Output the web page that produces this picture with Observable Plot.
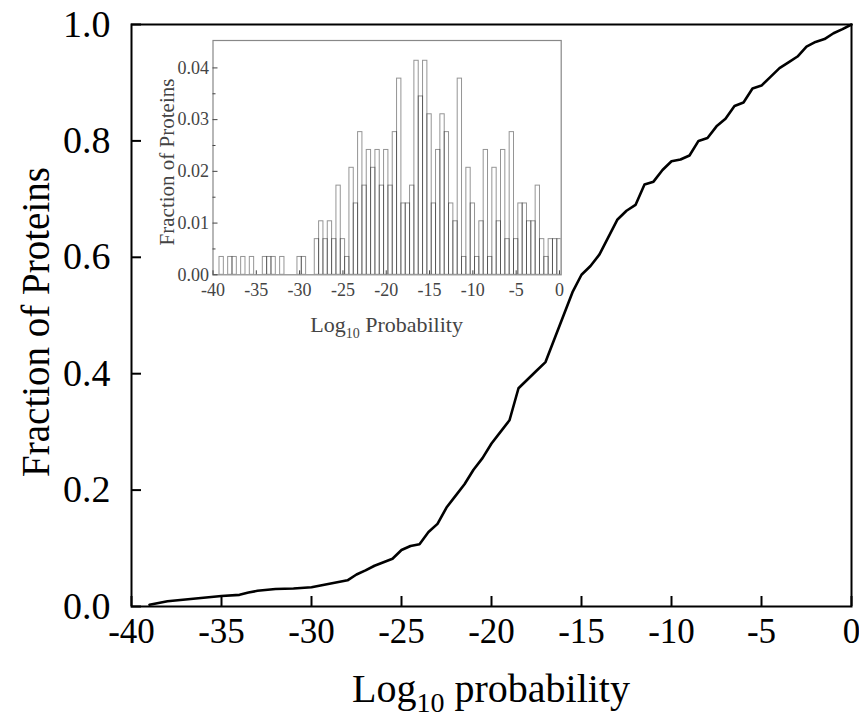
<!DOCTYPE html>
<html><head><meta charset="utf-8">
<script src="https://cdn.jsdelivr.net/npm/d3@7"></script>
<script src="https://cdn.jsdelivr.net/npm/@observablehq/plot@0.6"></script>
<style>
body{margin:0;background:#fff;}
#wrap{position:relative;width:859px;height:717px;}
#inset{position:absolute;left:140px;top:30px;}
</style></head><body><div id="wrap"><div id="main"></div><div id="inset"></div></div>
<script>
// Main cumulative curve
const cdfX = [-39,-38.5,-38,-37,-36,-35,-34,-33.5,-33,-32,-31,-30,-29.5,-29,-28,-27.5,-27,-26.5,-26,-25.5,-25,-24.5,-24,-23.5,-23,-22.5,-22,-21.5,-21,-20.5,-20,-19.5,-19,-18.5,-18,-17.5,-17,-16.5,-16,-15.5,-15,-14.5,-14,-13.5,-13,-12.5,-12,-11.5,-11,-10.5,-10,-9.5,-9,-8.5,-8,-7.5,-7,-6.5,-6,-5.5,-5,-4.5,-4,-3.5,-3,-2.5,-2,-1.5,-1,-0.5,0];
const cdfY = [0.003,0.006,0.009,0.012,0.015,0.018,0.02,0.024,0.027,0.03,0.031,0.033,0.036,0.039,0.045,0.055,0.062,0.07,0.076,0.082,0.097,0.104,0.107,0.128,0.142,0.17,0.19,0.21,0.235,0.255,0.28,0.3,0.32,0.375,0.39,0.405,0.42,0.46,0.5,0.54,0.57,0.585,0.605,0.635,0.665,0.68,0.69,0.725,0.73,0.75,0.765,0.768,0.775,0.8,0.805,0.825,0.838,0.86,0.866,0.89,0.895,0.91,0.925,0.935,0.945,0.962,0.97,0.975,0.985,0.992,1.0];

// Inset histogram: bins of width 0.5 (centres -39 ... 0), protein counts per bin
const binWidth = 0.5;
const binCenters = d3.range(-39, 0.001, binWidth);
const binCounts = [1,0,1,1,0,1,0,1,0,0,1,1,1,0,1,0,0,0,1,1,0,0,
  2,3,2,3,2,5,2,1,6,
  4,8,5,7,6,7,5,7,
  5,8,11,4,4,5,12,10,
  12,9,4,7,9,8,4,3,
  11,1,6,4,1,3,7,1,
  6,3,7,2,8,2,4,4,
  3,3,5,2,1,2,2,2];
const totalProteins = 290;

const xTicks = [-40,-35,-30,-25,-20,-15,-10,-5,0];
const yTicks = [0,0.2,0.4,0.6,0.8,1.0];
const insetYTicks = [0,0.01,0.02,0.03,0.04];
const insetYMinor = [0.005,0.015,0.025,0.035];

const serif = "'Liberation Serif','Times New Roman',serif";

const curve = cdfX.map((x, i) => ({x, y: cdfY[i]}));
const main = Plot.plot({
  width: 859, height: 717,
  marginLeft: 131, marginRight: 8, marginTop: 24, marginBottom: 111,
  style: {fontFamily: serif, background: "white", color: "black", overflow: "visible"},
  x: {domain: [-40, 0]},
  y: {domain: [0, 1]},
  marks: [
    Plot.axisX({ticks: xTicks, tickSize: -10, tickPadding: 22, strokeWidth: 2, tickFormat: d => String(d), fontSize: 35, label: null}),
    Plot.axisY({ticks: yTicks, tickSize: -10, tickPadding: 31, strokeWidth: 2, tickFormat: d3.format(".1f"), fontSize: 38, label: null}),
    Plot.frame({stroke: "black", strokeWidth: 2}),
    Plot.line(curve, {x: "x", y: "y", stroke: "black", strokeWidth: 2.6})
  ]
});
document.getElementById("main").appendChild(main);
{
  const svg = d3.select(main);
  svg.append("text")
    .attr("transform", "translate(49,322) rotate(-90)")
    .attr("text-anchor", "middle").attr("font-family", serif).attr("font-size", 39).attr("fill", "black")
    .text("Fraction of Proteins");
  const t = svg.append("text").attr("x", 491).attr("y", 702)
    .attr("text-anchor", "middle").attr("font-family", serif).attr("font-size", 40).attr("fill", "black");
  t.append("tspan").text("Log");
  t.append("tspan").attr("dy", 10).attr("font-size", 28).text("10");
  t.append("tspan").attr("dy", -10).text(" probability");
}

const bins = binCenters.map((c, i) => ({x1: c - binWidth / 2, x2: c + binWidth / 2, y: binCounts[i] / totalProteins}));
const inset = Plot.plot({
  width: 440, height: 320,
  marginLeft: 72.5, marginRight: 19.3, marginTop: 10, marginBottom: 75.7,
  style: {fontFamily: serif, background: "transparent", color: "#444", overflow: "visible"},
  x: {domain: [-40, 0.2]},
  y: {domain: [0, 0.0453]},
  marks: [
    Plot.rect(bins.filter(d => d.y > 0), {x1: "x1", x2: "x2", y1: 0, y2: "y", fill: "none", stroke: "black", strokeOpacity: 0.42, strokeWidth: 1, inset: 0, clip: true}),
    Plot.frame({stroke: "#888", strokeWidth: 1.2}),
    Plot.axisX({ticks: xTicks, tickSize: -4, tickPadding: 12, tickFormat: d => String(d), fontSize: 18, label: null}),
    Plot.axisY({ticks: insetYTicks, tickSize: -5, tickPadding: 9, tickFormat: d3.format(".2f"), fontSize: 18, label: null}),
    Plot.axisY({ticks: insetYMinor, tickSize: -3, tickFormat: () => "", label: null})
  ]
});
document.getElementById("inset").appendChild(inset);
{
  const svg = d3.select(inset);
  svg.append("text")
    .attr("transform", "translate(34,132) rotate(-90)")
    .attr("text-anchor", "middle").attr("font-family", serif).attr("font-size", 21).attr("fill", "#444")
    .text("Fraction of Proteins");
  const t = svg.append("text").attr("x", 246.6).attr("y", 302)
    .attr("text-anchor", "middle").attr("font-family", serif).attr("font-size", 22).attr("fill", "#444");
  t.append("tspan").text("Log");
  t.append("tspan").attr("dy", 6).attr("font-size", 14).text("10");
  t.append("tspan").attr("dy", -6).text(" Probability");
}
</script></body></html>
